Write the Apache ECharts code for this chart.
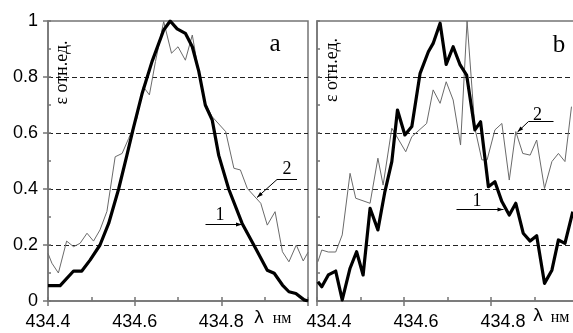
<!DOCTYPE html>
<html><head><meta charset="utf-8">
<script src="https://cdn.jsdelivr.net/npm/echarts@6/dist/echarts.min.js"></script>
<style>html,body{margin:0;padding:0;background:#fff}#c{width:573px;height:333px}</style>
</head><body><div id="c"></div>
<script>
// ---- data ----
const xTickLabels = ['434.4', '434.6', '434.8'];
const yTickLabels = ['0', '0.2', '0.4', '0.6', '0.8', '1'];

// panel a, curve 1 (thick)
const aLam1 = [434.400,434.428,434.459,434.478,434.497,434.520,434.540,434.563,434.582,434.597,434.617,434.640,434.667,434.682,434.698,434.717,434.733,434.748,434.763,434.779,434.794,434.817,434.848,434.879,434.906,434.922,434.941,434.956,434.972,434.991,435.000];
const aVal1 = [0.055,0.055,0.107,0.107,0.146,0.200,0.277,0.400,0.520,0.617,0.740,0.855,0.968,1.000,0.972,0.956,0.908,0.820,0.700,0.646,0.520,0.400,0.277,0.188,0.110,0.099,0.057,0.033,0.027,0.004,0.000];
// panel a, curve 2 (thin)
const aLam2 = [434.400,434.409,434.424,434.443,434.459,434.474,434.490,434.505,434.520,434.536,434.555,434.571,434.586,434.605,434.620,434.634,434.648,434.667,434.685,434.700,434.717,434.733,434.748,434.763,434.779,434.810,434.829,434.844,434.860,434.891,434.906,434.924,434.941,434.956,434.973,434.989,435.000];
const aVal2 = [0.170,0.135,0.100,0.214,0.194,0.206,0.242,0.214,0.254,0.320,0.515,0.527,0.580,0.652,0.765,0.736,0.855,0.998,0.885,0.908,0.860,0.950,0.815,0.705,0.658,0.605,0.474,0.468,0.402,0.349,0.271,0.319,0.176,0.140,0.200,0.143,0.174];
// panel b, curve 1 (thick)
const bLam1 = [434.402,434.411,434.426,434.443,434.458,434.476,434.491,434.506,434.522,434.540,434.556,434.572,434.585,434.602,434.618,434.637,434.656,434.667,434.683,434.697,434.713,434.729,434.744,434.763,434.776,434.794,434.809,434.825,434.842,434.857,434.874,434.890,434.905,434.923,434.940,434.955,434.970,434.988];
const bVal1 = [0.069,0.051,0.093,0.107,0.004,0.117,0.176,0.093,0.331,0.254,0.390,0.498,0.682,0.593,0.623,0.813,0.890,0.920,0.992,0.845,0.908,0.843,0.807,0.611,0.640,0.408,0.426,0.355,0.307,0.349,0.242,0.214,0.233,0.063,0.110,0.218,0.206,0.319];
// panel b, curve 2 (thin)
const bLam2 = [434.402,434.411,434.426,434.443,434.458,434.476,434.489,434.522,434.540,434.552,434.572,434.604,434.618,434.652,434.667,434.683,434.697,434.713,434.730,434.745,434.763,434.779,434.791,434.809,434.825,434.842,434.857,434.873,434.890,434.905,434.923,434.940,434.955,434.970,434.985];
const bVal2 = [0.140,0.182,0.175,0.175,0.236,0.456,0.367,0.349,0.510,0.414,0.617,0.533,0.587,0.634,0.754,0.706,0.783,0.718,0.557,1.000,0.617,0.504,0.504,0.611,0.634,0.432,0.605,0.527,0.521,0.575,0.402,0.498,0.527,0.498,0.694];

const zip = (xs, ys) => xs.map((x, i) => [x, ys[i]]);

const AX = '#747474';
const SANS = '"Liberation Sans", Arial, sans-serif';
const SERIF = '"Liberation Serif", "Times New Roman", serif';

function xMain(grid, shift) {
  return {
    type: 'value', gridIndex: grid, position: 'bottom', min: 434.4, max: 435.0, interval: 0.2,
    axisLine: { show: true, lineStyle: { color: AX, width: 1.5 } },
    axisTick: { show: true, inside: false, length: 5, lineStyle: { color: AX, width: 1.5 } },
    axisLabel: {
      show: true, color: '#000', fontFamily: SANS, fontSize: 18, margin: 12,
      padding: [0, 0, 0, shift],
      formatter: v => { const s = v.toFixed(1); return xTickLabels.includes(s) ? s : ''; }
    },
    splitLine: { show: false }
  };
}
function xMinor(grid) {
  return {
    type: 'value', gridIndex: grid, position: 'bottom', min: 434.4, max: 435.0, interval: 0.1,
    axisLine: { show: false },
    axisTick: { show: true, inside: true, length: 4, lineStyle: { color: AX, width: 1.5 } },
    axisLabel: { show: false }, splitLine: { show: false }
  };
}
function yMain(grid, withLabels) {
  return {
    type: 'value', gridIndex: grid, position: 'left', min: 0, max: 1, interval: 0.2,
    axisLine: { show: true, lineStyle: { color: AX, width: 1.5 } },
    axisTick: { show: withLabels, inside: false, length: 5, lineStyle: { color: AX, width: 1.5 } },
    axisLabel: {
      show: withLabels, color: '#000', fontFamily: SANS, fontSize: 18, margin: 10,
      formatter: v => { const s = String(Math.round(v * 10) / 10); return yTickLabels.includes(s) ? s : ''; }
    },
    splitLine: { show: true, showMinLine: false, showMaxLine: false, lineStyle: { color: '#222', width: 1, type: [5, 3] } }
  };
}
function yMinor(grid) {
  return {
    type: 'value', gridIndex: grid, position: 'left', min: 0, max: 1, interval: 0.1,
    axisLine: { show: false },
    axisTick: { show: true, inside: true, length: 3, lineStyle: { color: AX, width: 1.5 } },
    axisLabel: { show: false }, splitLine: { show: false }
  };
}

function arrowHead(tip, from, len, half) {
  const dx = tip[0] - from[0], dy = tip[1] - from[1];
  const L = Math.hypot(dx, dy), ux = dx / L, uy = dy / L;
  const bx = tip[0] - ux * len, by = tip[1] - uy * len;
  return [tip, [bx - uy * half, by + ux * half], [bx + uy * half, by - ux * half]];
}
function leader(points) {
  const n = points.length;
  return [
    { type: 'polyline', shape: { points }, style: { stroke: '#000', lineWidth: 1, fill: null }, z: 10 },
    { type: 'polygon', shape: { points: arrowHead(points[n - 1], points[n - 2], 6, 2) }, style: { fill: '#000' }, z: 10 }
  ];
}
function txt(x, y, text, font, extra) {
  return Object.assign({ type: 'text', x, y, z: 10,
    style: { text, x: 0, y: 0, textAlign: 'center', textVerticalAlign: 'middle', font, fill: '#000' } }, extra || {});
}

const chart = echarts.init(document.getElementById('c'), null, { renderer: 'canvas' });
chart.setOption({
  backgroundColor: '#fff',
  animation: false,
  grid: [
    { left: 48, top: 21, width: 260, height: 280, show: true, borderColor: AX, borderWidth: 1.5, backgroundColor: 'transparent', outerBoundsMode: 'none' },
    { left: 317, top: 21, width: 261, height: 280, show: true, borderColor: AX, borderWidth: 1.5, backgroundColor: 'transparent', outerBoundsMode: 'none' }
  ],
  xAxis: [xMain(0, 0), xMinor(0), xMain(1, 24), xMinor(1)],
  yAxis: [yMain(0, true), yMinor(0), yMain(1, false), yMinor(1)],
  series: [
    { type: 'line', xAxisIndex: 0, yAxisIndex: 0, data: zip(aLam2, aVal2), symbol: 'none', clip: true,
      lineStyle: { color: '#6a6a6a', width: 1 } },
    { type: 'line', xAxisIndex: 0, yAxisIndex: 0, data: zip(aLam1, aVal1), symbol: 'none', clip: true,
      lineStyle: { color: '#000', width: 3.2, join: 'round' } },
    { type: 'line', xAxisIndex: 2, yAxisIndex: 2, data: zip(bLam2, bVal2), symbol: 'none', clip: true,
      lineStyle: { color: '#6a6a6a', width: 1 } },
    { type: 'line', xAxisIndex: 2, yAxisIndex: 2, data: zip(bLam1, bVal1), symbol: 'none', clip: true,
      lineStyle: { color: '#000', width: 3.2, join: 'round' } }
  ],
  graphic: [
    txt(62.5, 72.5, 'ε отн.ед.', '18px ' + SERIF, { rotation: Math.PI / 2 }),
    txt(332.5, 70, 'ε отн.ед.', '18px ' + SERIF, { rotation: Math.PI / 2 }),
    txt(275, 44, 'a', '25px ' + SERIF),
    txt(559, 45, 'b', '25px ' + SERIF),
    txt(259, 318, 'λ', '19px ' + SANS),
    txt(282, 319, 'нм', '16px ' + SERIF),
    txt(538, 316, 'λ', '19px ' + SANS),
    txt(560, 318, 'нм', '16px ' + SERIF),
    txt(287, 169, '2', '18px ' + SERIF),
    txt(220, 215, '1', '18px ' + SERIF),
    txt(537.5, 115, '2', '18px ' + SERIF),
    txt(477, 201, '1', '18px ' + SERIF),
    ...leader([[297, 179.5], [277, 179.5], [257, 197.5]]),
    ...leader([[205.5, 224.5], [242, 224.5]]),
    ...leader([[553.5, 121.5], [528.5, 121.5], [517.5, 132]]),
    ...leader([[456.5, 209.5], [503.5, 209.5]])
  ]
});
</script></body></html>
